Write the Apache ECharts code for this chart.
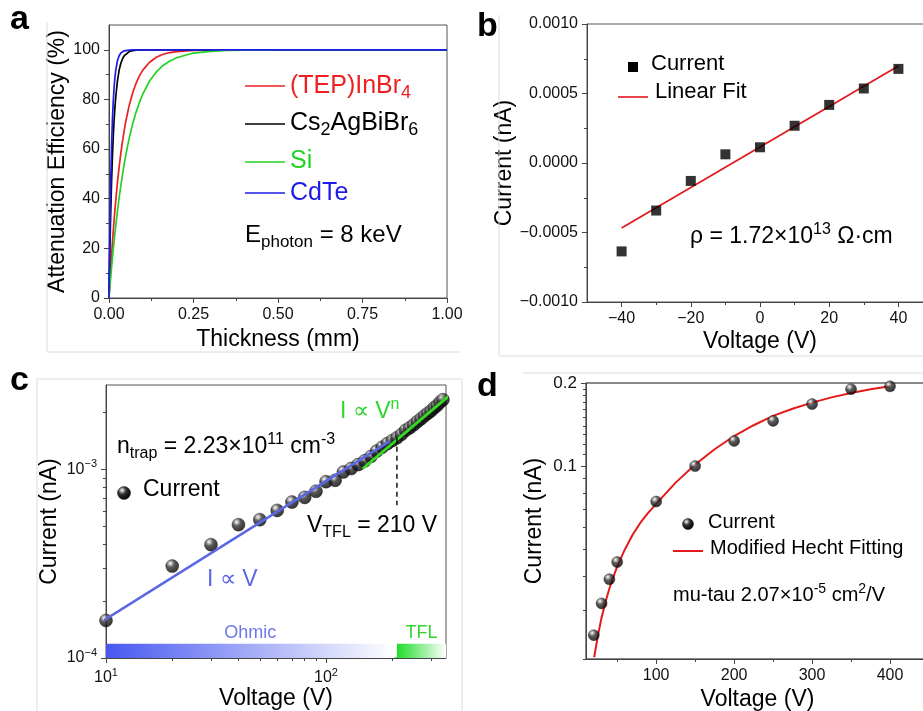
<!DOCTYPE html>
<html><head><meta charset="utf-8">
<script src="https://cdn.jsdelivr.net/npm/echarts@6/dist/echarts.min.js"></script>
<style>html,body{margin:0;padding:0;background:#fff}#c{width:923px;height:711px}</style>
</head><body><div id="c"></div>
<script>
// ===== Panel a : attenuation efficiency vs thickness =====
const thicknessMM = [0, 0.0025, 0.005, 0.0075, 0.01, 0.0125, 0.015, 0.0175, 0.02, 0.025, 0.03, 0.035, 0.04, 0.045, 0.05, 0.06, 0.07, 0.08, 0.09, 0.1, 0.12, 0.14, 0.16, 0.18, 0.2, 0.25, 0.3, 0.35, 0.4, 0.5, 0.75, 1.0];
const effTEP  = [0, 6.1, 11.8, 17.1, 22.1, 26.8, 31.3, 35.4, 39.3, 46.5, 52.8, 58.3, 63.2, 67.5, 71.4, 77.7, 82.6, 86.5, 89.5, 91.8, 95.0, 97.0, 98.2, 98.9, 99.3, 99.8, 99.9, 100, 100, 100, 100, 100];
const effCs   = [0, 18.8, 34.1, 46.5, 56.5, 64.7, 71.4, 76.7, 81.1, 87.5, 91.8, 94.6, 96.4, 97.6, 98.4, 99.3, 99.7, 99.9, 100, 100, 100, 100, 100, 100, 100, 100, 100, 100, 100, 100, 100, 100];
const effSi   = [0, 4.2, 8.3, 12.1, 15.8, 19.4, 22.8, 26.0, 29.2, 35.0, 40.4, 45.3, 49.8, 54.0, 57.8, 64.5, 70.1, 74.8, 78.8, 82.2, 87.4, 91.1, 93.7, 95.5, 96.8, 98.7, 99.4, 99.8, 99.9, 100, 100, 100];
const effCdTe = [0, 26.8, 46.5, 60.8, 71.4, 79.0, 84.7, 88.8, 91.8, 95.6, 97.6, 98.7, 99.3, 99.6, 99.8, 99.9, 100, 100, 100, 100, 100, 100, 100, 100, 100, 100, 100, 100, 100, 100, 100, 100];
const aXMajor = [0, 0.25, 0.5, 0.75, 1.0];
const aXMinor = [0.125, 0.375, 0.625, 0.875];
const aYMajor = [0, 20, 40, 60, 80, 100];
const aYMinor = [10, 30, 50, 70, 90];

// ===== Panel b : I-V linear =====
const voltB = [-40, -30, -20, -10, 0, 10, 20, 30, 40];
const currB = [-0.000636, -0.000342, -0.000129, 0.0000624, 0.000113, 0.000268, 0.000418, 0.000536, 0.000677];
const fitVB = [-40, 40];
const fitIB = [-0.000468, 0.000698];
const bXMajor = [-40, -20, 0, 20, 40];
const bXMinor = [-30, -10, 10, 30];
const bYMajor = [-0.001, -0.0005, 0, 0.0005, 0.001];
const bYMinor = [-0.00075, -0.00025, 0.00025, 0.00075];

// ===== Panel c : SCLC log-log =====
const voltC = [10, 20, 30, 40, 50, 60, 70, 80, 90, 100, 110, 120, 130, 140, 150, 160, 170, 180, 190, 200, 210, 220, 230, 240, 250, 260, 270, 280, 290, 300, 310, 320, 330, 340];
const currC = [1.58e-4, 3.07e-4, 3.99e-4, 5.09e-4, 5.41e-4, 6.06e-4, 6.71e-4, 7.10e-4, 7.65e-4, 8.60e-4, 8.75e-4, 9.68e-4, 1.01e-3, 1.06e-3, 1.11e-3, 1.17e-3, 1.25e-3, 1.31e-3, 1.37e-3, 1.42e-3, 1.47e-3, 1.53e-3, 1.61e-3, 1.66e-3, 1.72e-3, 1.79e-3, 1.85e-3, 1.92e-3, 1.98e-3, 2.04e-3, 2.12e-3, 2.18e-3, 2.27e-3, 2.34e-3];
const ohmicLineV = [9.4, 195];
const ohmicLineI = [1.54e-4, 1.41e-3];
const tflLineV = [147, 406];
const tflLineI = [1.01e-3, 2.75e-3];
const vtflV = [210, 210];
const vtflI = [1.47e-3, 6.45e-4];
const ohmicRange = [10, 205];
const tflRange = [210, 351];
const regionBarI = [1e-4, 1.19e-4];
const cXMajor = [10, 100];
const cXMinor = [20, 30, 40, 50, 60, 70, 80, 90, 200, 300];
const cYMajor = [1e-4, 1e-3];
const cYMinor = [2e-4, 3e-4, 4e-4, 5e-4, 6e-4, 7e-4, 8e-4, 9e-4, 2e-3];

// ===== Panel d : Hecht fit =====
const voltD = [20, 30, 40, 50, 100, 150, 200, 250, 300, 350, 400];
const currD = [0.0244, 0.0318, 0.0389, 0.0449, 0.0744, 0.100, 0.1233, 0.1458, 0.1677, 0.190, 0.1945];
const fitVD = [20.5, 25, 30, 35, 40, 45, 50, 60, 70, 80, 90, 100, 125, 150, 175, 200, 225, 250, 275, 300, 325, 350, 375, 400];
const fitID = [0.0203, 0.0241, 0.0283, 0.0322, 0.0360, 0.0396, 0.0432, 0.0500, 0.0565, 0.0625, 0.0678, 0.0730, 0.0871, 0.1014, 0.1151, 0.1285, 0.1406, 0.1521, 0.1614, 0.1698, 0.1774, 0.1841, 0.1897, 0.1945];
const dXMajor = [100, 200, 300, 400];
const dXMinor = [50, 150, 250, 350];
const dYMajor = [0.1, 0.2];
const dYMinor = [0.02, 0.03, 0.04, 0.05, 0.06, 0.07, 0.08, 0.09, 0.11, 0.12, 0.13, 0.14, 0.15, 0.16, 0.17, 0.18, 0.19];

// ===== helpers =====
const FF = '"Liberation Sans", Arial, Helvetica, sans-serif';
const zip = (xs, ys) => xs.map((x, i) => [x, ys[i]]);
const AX = '#444';

function axisPair(dim, grid, type, min, max, majors, minors, fmt, name, nameGap, labelExtra) {
  const pos = dim === 'x' ? 'bottom' : 'left';
  const main = {
    type: type, gridIndex: grid, min: min, max: max, position: pos, offset: 0,
    name: name, nameLocation: 'middle', nameGap: nameGap,
    nameTextStyle: {fontSize: 23, color: '#000', fontFamily: FF},
    axisLine: {show: true, onZero: false, lineStyle: {color: AX, width: 1}},
    axisTick: {show: true, inside: false, length: 5, customValues: majors, lineStyle: {color: AX, width: 1}},
    axisLabel: Object.assign({show: true, customValues: majors, formatter: fmt, fontSize: 16, color: '#111', fontFamily: FF, margin: 9, hideOverlap: false}, labelExtra || {}),
    splitLine: {show: false}
  };
  const minor = {
    type: type, gridIndex: grid, min: min, max: max, position: pos, offset: 0,
    axisLine: {show: false, onZero: false},
    axisTick: {show: true, inside: false, length: 3, customValues: minors, lineStyle: {color: AX, width: 1}},
    axisLabel: {show: false}, splitLine: {show: false}
  };
  if (type === 'log') { main.logBase = 10; minor.logBase = 10; }
  return [main, minor];
}

const minusFmt = v => (v < 0 ? '\u2212' : '') + Math.abs(v);
const supRich = {
  n: {fontSize: 16, fontFamily: FF, color: '#111', lineHeight: 22},
  s: {fontSize: 11, fontFamily: FF, color: '#111', lineHeight: 12, verticalAlign: 'top'}
};

const xAxes = [].concat(
  axisPair('x', 0, 'value', 0, 1, aXMajor, aXMinor, v => v.toFixed(2), 'Thickness (mm)', 30),
  axisPair('x', 1, 'value', -50, 50, bXMajor, bXMinor, minusFmt, 'Voltage (V)', 28),
  axisPair('x', 2, 'log', 10, 351, cXMajor, cXMinor, v => '{n|10}{s|' + Math.round(Math.log10(v)) + '}', 'Voltage (V)', 28, {rich: supRich}),
  axisPair('x', 3, 'value', 10, 450, dXMajor, dXMinor, v => String(v), 'Voltage (V)', 29)
);
const yAxes = [].concat(
  axisPair('y', 0, 'value', 0, 110, aYMajor, aYMinor, v => String(v), 'Attenuation Efficiency (%)', 38),
  axisPair('y', 1, 'value', -0.001, 0.001, bYMajor, bYMinor, v => (v < 0 ? '\u2212' : '') + Math.abs(v).toFixed(4), 'Current (nA)', 64),
  axisPair('y', 2, 'log', 1e-4, 2.8e-3, cYMajor, cYMinor, v => '{n|10}{s|\u2212' + Math.round(-Math.log10(v)) + '}', 'Current (nA)', 45, {rich: supRich}),
  axisPair('y', 3, 'log', 0.02, 0.2, dYMajor, dYMinor, v => String(v), 'Current (nA)', 40, {fontSize: 17})
);

const gridBase = {show: true, borderColor: '#555', borderWidth: 1, backgroundColor: 'transparent', containLabel: false, outerBoundsMode: 'none'};
const grids = [
  Object.assign({left: 109, top: 25, width: 338, height: 273}, gridBase),
  Object.assign({left: 587, top: 24, width: 346, height: 278}, gridBase),
  Object.assign({left: 106, top: 385, width: 340, height: 273}, gridBase),
  Object.assign({left: 586, top: 383, width: 343, height: 276}, gridBase, {borderColor: '#111'})
];

function ball() {
  return new echarts.graphic.RadialGradient(0.36, 0.3, 0.72, [
    {offset: 0, color: '#ffffff'}, {offset: 0.14, color: '#b8b8b8'},
    {offset: 0.42, color: '#303030'}, {offset: 1, color: '#000'}
  ]);
}

const series = [
  // panel a
  {type: 'line', name: '(TEP)InBr4', xAxisIndex: 0, yAxisIndex: 0, data: zip(thicknessMM, effTEP), showSymbol: false, lineStyle: {color: '#ee1f1f', width: 1.7}, itemStyle: {color: '#ee1f1f'}},
  {type: 'line', name: 'Cs2AgBiBr6', xAxisIndex: 0, yAxisIndex: 0, data: zip(thicknessMM, effCs), showSymbol: false, lineStyle: {color: '#000', width: 1.7}, itemStyle: {color: '#000'}},
  {type: 'line', name: 'Si', xAxisIndex: 0, yAxisIndex: 0, data: zip(thicknessMM, effSi), showSymbol: false, lineStyle: {color: '#22d422', width: 1.7}, itemStyle: {color: '#22d422'}},
  {type: 'line', name: 'CdTe', xAxisIndex: 0, yAxisIndex: 0, data: zip(thicknessMM, effCdTe), showSymbol: false, lineStyle: {color: '#1c1ce6', width: 1.7}, itemStyle: {color: '#1c1ce6'}},
  // panel b
  {type: 'line', name: 'Linear Fit', xAxisIndex: 2, yAxisIndex: 2, data: zip(fitVB, fitIB), showSymbol: false, lineStyle: {color: '#e3181e', width: 1.7}},
  {type: 'scatter', name: 'Current', xAxisIndex: 2, yAxisIndex: 2, data: zip(voltB, currB), symbol: 'rect', symbolSize: 10, itemStyle: {color: '#000'}, z: 3},
  // panel c
  {type: 'scatter', name: 'Current', xAxisIndex: 4, yAxisIndex: 4, data: zip(voltC, currC), symbol: 'circle', symbolSize: 13, clip: false, itemStyle: {color: ball(), borderColor: '#111', borderWidth: 0.5}},
  {type: 'line', name: 'I \u221d V', xAxisIndex: 4, yAxisIndex: 4, data: zip(ohmicLineV, ohmicLineI), showSymbol: false, clip: false, lineStyle: {color: '#5a68e6', width: 2.6}, z: 4},
  {type: 'line', name: 'I \u221d V^n', xAxisIndex: 4, yAxisIndex: 4, data: zip(tflLineV, tflLineI), showSymbol: false, clip: false, lineStyle: {color: '#33dd22', width: 2.8}, z: 4},
  {type: 'line', name: 'VTFL', xAxisIndex: 4, yAxisIndex: 4, data: zip(vtflV, vtflI), showSymbol: false, lineStyle: {color: '#000', width: 1.4, type: [5, 4]}, z: 4,
    markArea: {silent: true,
      label: {show: true, position: 'top', distance: 2, fontSize: 18, fontFamily: FF},
      data: [
        [{coord: [ohmicRange[0], regionBarI[0]], name: 'Ohmic',
          itemStyle: {color: new echarts.graphic.LinearGradient(0, 0, 1, 0, [{offset: 0, color: '#4858f0'}, {offset: 1, color: '#ffffff'}])},
          label: {formatter: 'Ohmic', color: '#6d78e8'}},
         {coord: [ohmicRange[1], regionBarI[1]]}],
        [{coord: [tflRange[0], regionBarI[0]], name: 'TFL',
          itemStyle: {color: new echarts.graphic.LinearGradient(0, 0, 1, 0, [{offset: 0, color: '#1fdc2a'}, {offset: 1, color: '#ffffff'}])},
          label: {formatter: 'TFL', color: '#2ed82e'}},
         {coord: [tflRange[1], regionBarI[1]]}]
      ]}},
  // panel d
  {type: 'line', name: 'Modified Hecht Fitting', xAxisIndex: 6, yAxisIndex: 6, data: zip(fitVD, fitID), showSymbol: false, lineStyle: {color: '#e41a1a', width: 2}},
  {type: 'scatter', name: 'Current', xAxisIndex: 6, yAxisIndex: 6, data: zip(voltD, currD), symbol: 'circle', symbolSize: 11, clip: false, itemStyle: {color: ball(), borderColor: '#111', borderWidth: 0.5}, z: 3}
];

// ===== annotation graphics =====
function rich(size) {
  return {
    n: {fontSize: size, fontFamily: FF, lineHeight: Math.round(size * 1.3)},
    sup: {fontSize: Math.round(size * 0.68), fontFamily: FF, lineHeight: Math.round(size * 0.7), verticalAlign: 'top'},
    sub: {fontSize: Math.round(size * 0.7), fontFamily: FF, lineHeight: Math.round(size * 0.7), verticalAlign: 'bottom'}
  };
}
function txt(x, y, text, size, color, extra) {
  return Object.assign({type: 'text', x: x, y: y, z: 100, silent: true,
    style: {text: text, fill: color || '#000', fontSize: size, fontFamily: FF, align: 'left', verticalAlign: 'middle', rich: rich(size)}}, extra || {});
}
function seg(x1, y1, x2, y2, color, w, dash) {
  return {type: 'line', z: 100, silent: true, shape: {x1: x1, y1: y1, x2: x2, y2: y2}, style: {stroke: color, lineWidth: w || 1, lineDash: dash || null}};
}
const LETTER = {fontWeight: 'bold', fontSize: 34, fontFamily: FF};
function letter(x, y, t) {
  return {type: 'text', x: x, y: y, z: 100, silent: true, style: Object.assign({text: t, fill: '#000', align: 'left', verticalAlign: 'middle'}, LETTER)};
}
const BORDER = '#dcdcdc';
const graphics = [
  // faint panel frames
  seg(47, 22, 47, 352, BORDER), seg(47, 352, 460, 352, BORDER),
  seg(499, 15, 499, 356, BORDER), seg(499, 356, 923, 356, BORDER),
  seg(37, 379, 462, 379, BORDER), seg(37, 379, 37, 711, BORDER), seg(462, 379, 462, 711, BORDER),
  seg(523, 373, 923, 373, BORDER),
  // panel letters
  letter(10, 20, 'a'), letter(477, 27, 'b'), letter(10, 381, 'c'), letter(477, 387, 'd'),
  // legend a
  seg(245, 86, 285, 86, '#ee1f1f', 1.6), txt(290, 86, '{n|(TEP)InBr}{sub|4}', 25, '#ee1f1f'),
  seg(245, 124, 285, 124, '#000', 1.6), txt(290, 123, '{n|Cs}{sub|2}{n|AgBiBr}{sub|6}', 25, '#000'),
  seg(245, 162, 285, 162, '#22d422', 1.6), txt(290, 161, '{n|Si}', 25, '#22d422'),
  seg(245, 193, 285, 193, '#1c1ce6', 1.6), txt(290, 193, '{n|CdTe}', 25, '#1c1ce6'),
  txt(245, 235, '{n|E}{sub|photon}{n| = 8 keV}', 24, '#000'),
  // legend b
  {type: 'rect', z: 100, silent: true, shape: {x: 628, y: 62, width: 10, height: 10}, style: {fill: '#000'}},
  txt(651, 64, '{n|Current}', 22, '#000'),
  seg(618, 97, 648, 97, '#e3181e', 1.6), txt(655, 92, '{n|Linear Fit}', 22, '#000'),
  txt(690, 237, '{n|\u03c1 = 1.72\u00d710}{sup|13}{n| \u03a9\u00b7cm}', 23, '#000'),
  // panel c annotations
  txt(117, 447, '{n|n}{sub|trap}{n| = 2.23\u00d710}{sup|11}{n| cm}{sup|-3}', 23, '#000'),
  {type: 'circle', z: 100, silent: true, shape: {cx: 124, cy: 493, r: 6.5}, style: {fill: ball(), stroke: '#111', lineWidth: 0.5}},
  txt(143, 490, '{n|Current}', 23, '#000'),
  txt(307, 526, '{n|V}{sub|TFL}{n| = 210 V}', 23, '#000'),
  txt(207, 580, '{n|I \u221d V}', 23, '#5a68e6'),
  txt(340, 412, '{n|I \u221d V}{sup|n}', 23, '#2ed82e'),
  // legend d
  {type: 'circle', z: 100, silent: true, shape: {cx: 688, cy: 524, r: 5.5}, style: {fill: ball(), stroke: '#111', lineWidth: 0.5}},
  txt(708, 522, '{n|Current}', 20, '#000'),
  seg(673, 551, 703, 551, '#e41a1a', 2), txt(710, 548, '{n|Modified Hecht Fitting}', 20, '#000'),
  txt(673, 595, '{n|mu-tau 2.07\u00d710}{sup|-5}{n| cm}{sup|2}{n|/V}', 20, '#000')
];

const chart = echarts.init(document.getElementById('c'), null, {renderer: 'canvas', width: 923, height: 711});
chart.setOption({
  animation: false,
  backgroundColor: '#fff',
  textStyle: {fontFamily: FF},
  grid: grids,
  xAxis: xAxes,
  yAxis: yAxes,
  series: series,
  graphic: {elements: graphics}
});
</script></body></html>
